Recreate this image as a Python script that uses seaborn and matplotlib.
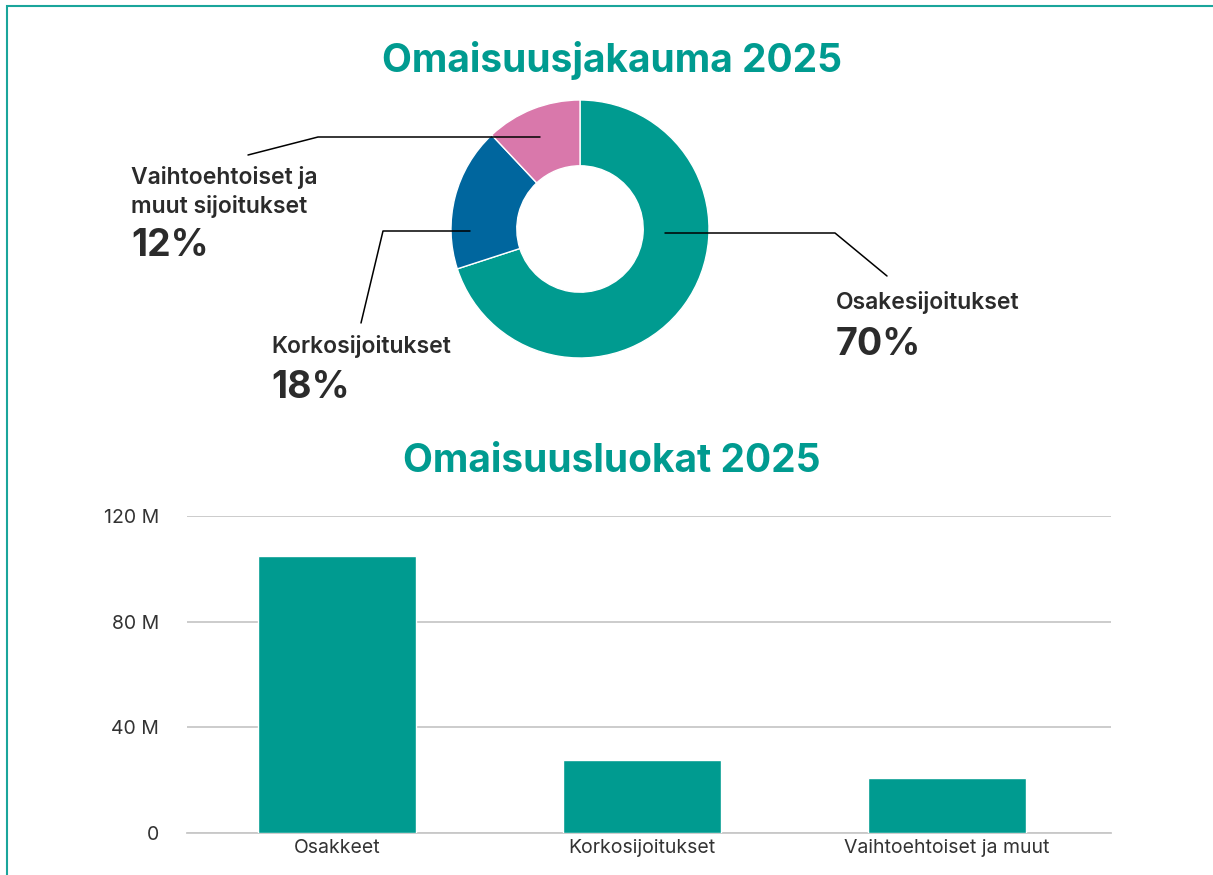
import matplotlib
matplotlib.use("Agg")
import matplotlib.pyplot as plt
import seaborn as sns
from matplotlib.patches import Rectangle
from matplotlib.lines import Line2D
from matplotlib.ticker import FuncFormatter

# --- data ---
pie_labels = ["Osakesijoitukset", "Korkosijoitukset", "Vaihtoehtoiset ja\nmuut sijoitukset"]
pie_shares = [70, 18, 12]
pie_colors = ["#009B90", "#00669E", "#D978AB"]

bar_categories = ["Osakkeet", "Korkosijoitukset", "Vaihtoehtoiset ja muut"]
bar_values = [105, 27.6, 20.8]  # millions
bar_ticks = [0, 40, 80, 120]

TEAL = "#009B90"
DARK = "#2b2b2b"
W, H = 1213, 875

sns.set_theme(style="white")
plt.rcParams["font.family"] = ["Inter", "DejaVu Sans"]


def fx(x):
    return x / W


def fy(y):
    return 1 - y / H


fig = plt.figure(figsize=(W / 100, H / 100), dpi=100)
fig.patch.set_facecolor("white")

# frame (runs off the right and bottom edges)
fig.add_artist(Rectangle((fx(7), -0.1), 2, fy(6) + 0.1, transform=fig.transFigure,
                         fill=False, edgecolor="#1aa59b", lw=1.5))

# --- donut ---
cx, cy, r = 580, 229, 129
ax1 = fig.add_axes([fx(cx - r), fy(cy + r), fx(2 * r), 2 * r / H])
ax1.pie(pie_shares, colors=pie_colors, startangle=90, counterclock=False,
        radius=1, wedgeprops=dict(width=0.51, edgecolor="white", linewidth=1))
ax1.set_xlim(-1, 1)
ax1.set_ylim(-1, 1)
ax1.set_aspect("equal")
ax1.axis("off")

fig.text(fx(612), fy(60), "Omaisuusjakauma 2025", ha="center", va="center",
         color=TEAL, fontsize=28, fontweight="bold")

# leader lines (pixel paths)
leaders = [
    [(665, 233), (835, 233), (887, 276)],
    [(470, 231), (383, 231), (361, 323)],
    [(540, 137), (318, 137), (248, 155)],
]
for path in leaders:
    xs = [fx(p[0]) for p in path]
    ys = [fy(p[1]) for p in path]
    fig.add_artist(Line2D(xs, ys, transform=fig.transFigure, color="black", lw=1.1))

# labels
label_pos = [(836, 303, 345), (271, 346, 388), (131, 192, 246)]
for lab, share, (lx, ly, py) in zip(pie_labels, pie_shares, label_pos):
    fig.text(fx(lx), fy(ly), lab, ha="left", va="center", color=DARK,
             fontsize=16.5, fontweight="semibold", linespacing=1.35)
    fig.text(fx(lx), fy(py), f"{share}%", ha="left", va="center", color=DARK,
             fontsize=27, fontweight="bold")

# --- bars ---
fig.text(fx(612), fy(462), "Omaisuusluokat 2025", ha="center", va="center",
         color=TEAL, fontsize=28, fontweight="bold")

ax2 = fig.add_axes([fx(187), fy(833), fx(924), 317 / H])
sns.barplot(x=bar_categories, y=bar_values, ax=ax2, color=TEAL, saturation=1,
            width=0.518, zorder=3)
ax2.set_xlim(-0.492, 2.538)
ax2.set_ylim(0, 120)
ax2.set_yticks(bar_ticks)
ax2.yaxis.set_major_formatter(FuncFormatter(lambda v, _: "0" if v == 0 else f"{v:.0f} M"))
ax2.grid(axis="y", color="#c8c8c8", lw=1.3, zorder=0)
ax2.grid(axis="x", visible=False)
for s in ["left", "right", "top"]:
    ax2.spines[s].set_visible(False)
ax2.spines["bottom"].set_color("#c8c8c8")
ax2.spines["bottom"].set_linewidth(1.3)
ax2.tick_params(axis="both", length=0, labelsize=14, colors="#333333")
ax2.tick_params(axis="y", pad=20)
ax2.tick_params(axis="x", pad=4)
ax2.set_xlabel("")
ax2.set_ylabel("")

fig.savefig("out.png", dpi=100, facecolor="white")
